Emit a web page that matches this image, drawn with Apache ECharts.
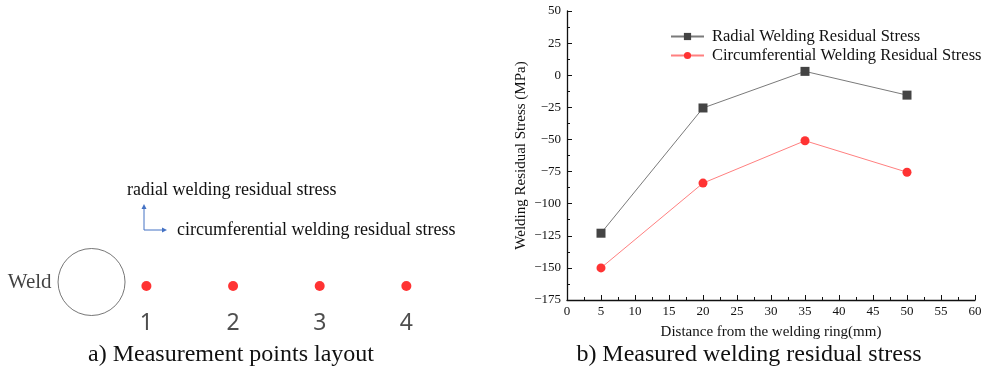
<!DOCTYPE html>
<html>
<head>
<meta charset="utf-8">
<script src="https://cdn.jsdelivr.net/npm/echarts@6/dist/echarts.min.js"></script>
<style>
  html, body { margin: 0; padding: 0; background: #fff; }
  #chart { width: 987px; height: 372px; }
</style>
</head>
<body>
<div id="chart"></div>
<script>
// right panel data: distance from welding ring (mm) vs. stress (MPa)
const distances = [5, 20, 35, 50]
const radialStress = [-123, -25.5, 3, -15.5]
const circumStress = [-150, -84, -51, -75.5]
const xTicks = { min: 0, max: 60, interval: 5 }
const yTicks = { min: -175, max: 50, interval: 25 }

// left panel layout (same mm units as the chart)
const pointLabels = ['1', '2', '3', '4']
const weldPos = [-4.5, 4]

const SERIF = '"Liberation Serif", "Times New Roman", serif'
const chart = echarts.init(document.getElementById('chart'), null, { renderer: 'canvas' })

const minus = (v) => String(v).replace('-', '\u2212')

const option = {
  animation: false,
  backgroundColor: '#fff',
  textStyle: { fontFamily: SERIF },
  grid: [
    { left: 567, right: 12, top: 11, bottom: 72 },
    { left: 2, width: 491, top: 276, height: 20 },
  ],
  legend: {
    data: ['Radial Welding Residual Stress', 'Circumferential Welding Residual Stress'],
    orient: 'vertical',
    left: 665,
    top: 23,
    itemGap: 2,
    itemWidth: 33,
    itemHeight: 9,
    textStyle: { fontFamily: SERIF, fontSize: 16.5, color: '#111', padding: [0, 0, 0, 3] },
  },
  xAxis: [
    {
      gridIndex: 0,
      type: 'value',
      ...xTicks,
      name: 'Distance from the welding ring(mm)',
      nameLocation: 'middle',
      nameGap: 25,
      nameTextStyle: { fontFamily: SERIF, fontSize: 15, color: '#111' },
      axisLine: { onZero: false, lineStyle: { color: '#111', width: 1.3 } },
      axisTick: { inside: true, length: 5, lineStyle: { color: '#111' } },
      minorTick: { show: true, splitNumber: 2, length: 3, lineStyle: { color: '#111' } },
      axisLabel: { fontFamily: SERIF, fontSize: 13, color: '#111', margin: 5 },
      splitLine: { show: false },
    },
    { gridIndex: 1, type: 'value', min: -20, max: 65, show: false },
  ],
  yAxis: [
    {
      gridIndex: 0,
      type: 'value',
      ...yTicks,
      name: 'Welding Residual Stress (MPa)',
      nameLocation: 'middle',
      nameGap: 38,
      nameTextStyle: { fontFamily: SERIF, fontSize: 15, color: '#111' },
      axisLine: { show: true, onZero: false, lineStyle: { color: '#111', width: 1.3 } },
      axisTick: { show: true, inside: true, length: 5, lineStyle: { color: '#111' } },
      minorTick: { show: true, splitNumber: 2, length: 3, lineStyle: { color: '#111' } },
      axisLabel: { fontFamily: SERIF, fontSize: 13, color: '#111', margin: 6, formatter: minus },
      splitLine: { show: false },
    },
    { gridIndex: 1, type: 'value', min: -10, max: 10, show: false },
  ],
  series: [
    {
      name: 'Radial Welding Residual Stress',
      type: 'line',
      data: distances.map((d, i) => [d, radialStress[i]]),
      symbol: 'rect',
      symbolSize: 9,
      itemStyle: { color: '#444' },
      lineStyle: { color: '#7a7a7a', width: 1 },
    },
    {
      name: 'Circumferential Welding Residual Stress',
      type: 'line',
      data: distances.map((d, i) => [d, circumStress[i]]),
      symbol: 'circle',
      symbolSize: 9,
      itemStyle: { color: '#f33' },
      lineStyle: { color: '#ff8080', width: 1 },
    },
    {
      // measurement points
      type: 'scatter',
      xAxisIndex: 1,
      yAxisIndex: 1,
      data: distances.map((d) => [d, 0]),
      symbolSize: 10,
      itemStyle: { color: '#f00' },
      label: {
        show: true,
        position: 'bottom',
        distance: 21,
        formatter: (p) => pointLabels[p.dataIndex],
        fontFamily: '"Noto Sans", sans-serif',
        fontSize: 23,
        color: '#222',
      },
    },
    {
      // weld ring
      type: 'scatter',
      xAxisIndex: 1,
      yAxisIndex: 1,
      data: [weldPos],
      symbolSize: 67,
      itemStyle: { color: 'transparent', borderColor: '#555', borderWidth: 1 },
      label: {
        show: true,
        position: 'left',
        distance: 6,
        formatter: 'Weld',
        fontFamily: SERIF,
        fontSize: 21,
        color: '#111',
      },
    },
  ],
  graphic: [
    { type: 'line', shape: { x1: 144, y1: 230, x2: 144, y2: 208 }, style: { stroke: '#4472c4', lineWidth: 1 } },
    { type: 'polygon', shape: { points: [[141.5, 209], [146.5, 209], [144, 204]] }, style: { fill: '#4472c4' } },
    { type: 'line', shape: { x1: 144, y1: 230, x2: 163, y2: 230 }, style: { stroke: '#4472c4', lineWidth: 1 } },
    { type: 'polygon', shape: { points: [[162, 227.5], [162, 232.5], [167, 230]] }, style: { fill: '#4472c4' } },
    {
      type: 'text', x: 127, y: 190,
      style: { text: 'radial welding residual stress', fontFamily: SERIF, fontSize: 18, fill: '#111', verticalAlign: 'middle' },
    },
    {
      type: 'text', x: 177, y: 230.5,
      style: { text: 'circumferential welding residual stress', fontFamily: SERIF, fontSize: 18, fill: '#111', verticalAlign: 'middle' },
    },
    {
      type: 'text', x: 231, y: 355,
      style: { text: 'a) Measurement points layout', fontFamily: SERIF, fontSize: 24, fill: '#111', align: 'center', verticalAlign: 'middle' },
    },
    {
      type: 'text', x: 749, y: 355,
      style: { text: 'b) Measured welding residual stress', fontFamily: SERIF, fontSize: 24, fill: '#111', align: 'center', verticalAlign: 'middle' },
    },
  ],
}

chart.setOption(option)
</script>
</body>
</html>
